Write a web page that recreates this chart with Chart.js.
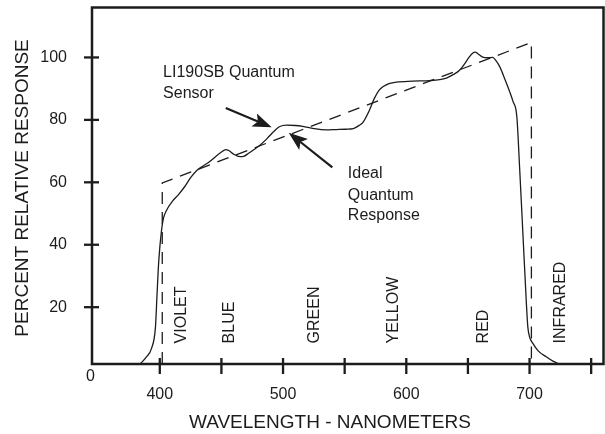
<!DOCTYPE html>
<html><head><meta charset="utf-8">
<script src="https://cdn.jsdelivr.net/npm/chart.js@4.4.1/dist/chart.umd.min.js"></script>
<style>html,body{margin:0;padding:0;background:#fff}#wrap{width:605px;height:434px;position:relative}</style>
</head><body><div id="wrap"><canvas id="c"></canvas></div>
<script>
// ---- data ----
const sensorWavelength = [384, 389, 393.3, 396.5, 397.8, 399.2, 401.4, 403, 405.4, 410.8, 415, 420, 425, 430, 440, 450, 453.5, 456, 460, 465, 468, 472, 481, 487, 492, 497, 503, 510, 516, 525, 535, 543, 551, 557, 562, 565, 570, 574, 578, 581, 586, 592, 605, 619, 627, 632.5, 638, 643, 647, 651, 654, 656, 658, 662, 666, 670, 673, 676, 680, 684, 686.5, 689.7, 691.9, 694.6, 697.3, 698.6, 700, 702.7, 707, 713.5, 719, 724];
const sensorResponse   = [1.8, 4, 6.8, 13.7, 24.4, 35, 44.6, 48.5, 51, 54.2, 56, 58.5, 61.5, 63.8, 66.5, 69.7, 70.5, 70.2, 69, 68.2, 68.3, 69.3, 71.8, 74, 76.1, 77.8, 78.3, 78.2, 77.9, 77.2, 76.8, 76.9, 77, 77.2, 78.3, 79.3, 83, 86.8, 89.5, 90.6, 91.6, 92.1, 92.4, 92.6, 92.9, 93.4, 94.5, 95.8, 97.8, 100.1, 101.4, 101.7, 101.2, 100.1, 99.9, 100, 98.8, 96.9, 93, 88.9, 86, 81, 65, 43.6, 22.2, 13.7, 10.5, 8.4, 6, 4.1, 2.7, 1.8];
const idealWavelength = [402, 402, 701.5, 701.5];
const idealResponse   = [1.8, 59.8, 104.8, 1.8];
const xTickValues = [400, 450, 500, 550, 600, 650, 700, 750];
const xTickLabels = ['400', '', '500', '', '600', '', '700', ''];
const yTickValues = [20, 40, 60, 80, 100];
const yTickLabels = ['20', '40', '60', '80', '100'];
const bandNames   = ['VIOLET', 'BLUE', 'GREEN', 'YELLOW', 'RED', 'INFRARED'];
const bandCenters = [417.4, 456.3, 525.8, 589.5, 662.5, 725.2];
const sensorNote = ['LI190SB Quantum', 'Sensor'];
const idealNote  = ['Ideal', 'Quantum', 'Response'];
const xTitle = 'WAVELENGTH - NANOMETERS';
const yTitle = 'PERCENT RELATIVE RESPONSE';

// ---- placement (data units) ----
const bandLabelY = 8.4;
const sensorNoteAt = {x: 402.7, y: [95.3, 88.4]};
const sensorArrow = {from: [453.5, 83.8], to: [490.8, 77.6]};
const idealNoteAt = {x: 552.6, y: [62.8, 55.8, 49.5]};
const idealArrow = {from: [540, 64.8], to: [504.6, 75.9]};
const xTitleAt = 538;    // wavelength at title centre
const yTitleAt = 58.2;   // response at title centre

const FONT = '"Liberation Sans", Arial, Helvetica, sans-serif';
const INK = '#1c1c1c';

function pts(xs, ys) { return xs.map((x, i) => ({x: x, y: ys[i]})); }

const decor = {
  id: 'decor',
  afterDraw(chart) {
    const ctx = chart.ctx;
    const {left, right, top, bottom} = chart.chartArea;
    const xs = chart.scales.x, ys = chart.scales.y;
    ctx.save();
    ctx.strokeStyle = INK; ctx.fillStyle = INK;
    ctx.lineWidth = 2.5; ctx.lineCap = 'butt';
    ctx.strokeRect(left, top, right - left, bottom - top);
    ctx.lineWidth = 2.3;
    xTickValues.forEach(v => {
      const p = xs.getPixelForValue(v);
      ctx.beginPath(); ctx.moveTo(p, bottom - 6); ctx.lineTo(p, bottom + 10); ctx.stroke();
    });
    yTickValues.forEach(v => {
      const p = ys.getPixelForValue(v);
      ctx.beginPath(); ctx.moveTo(left - 8, p); ctx.lineTo(left + 7, p); ctx.stroke();
    });
    ctx.font = '16px ' + FONT;
    ctx.textAlign = 'center'; ctx.textBaseline = 'middle';
    ctx.fillText('0', left - 1.5, bottom + 13);
    bandNames.forEach((n, i) => {
      ctx.save();
      ctx.translate(xs.getPixelForValue(bandCenters[i]), ys.getPixelForValue(bandLabelY));
      ctx.rotate(-Math.PI / 2);
      ctx.textAlign = 'left'; ctx.textBaseline = 'middle';
      ctx.fillText(n, 0, 0);
      ctx.restore();
    });
    ctx.textAlign = 'left'; ctx.textBaseline = 'middle';
    sensorNote.forEach((t, i) => ctx.fillText(t, xs.getPixelForValue(sensorNoteAt.x), ys.getPixelForValue(sensorNoteAt.y[i])));
    idealNote.forEach((t, i) => ctx.fillText(t, xs.getPixelForValue(idealNoteAt.x), ys.getPixelForValue(idealNoteAt.y[i])));
    // axis titles
    ctx.font = '19px ' + FONT;
    ctx.textAlign = 'center'; ctx.textBaseline = 'middle';
    ctx.fillText(xTitle, xs.getPixelForValue(xTitleAt), bottom + 59);
    ctx.save();
    ctx.translate(22.4, ys.getPixelForValue(yTitleAt));
    ctx.rotate(-Math.PI / 2);
    ctx.fillText(yTitle, 0, 0);
    ctx.restore();
    function arrow(a) {
      const x0 = xs.getPixelForValue(a.from[0]), y0 = ys.getPixelForValue(a.from[1]);
      const x1 = xs.getPixelForValue(a.to[0]), y1 = ys.getPixelForValue(a.to[1]);
      const ang = Math.atan2(y1 - y0, x1 - x0);
      const L = 19, W = 7;
      const bx = x1 - L * Math.cos(ang), by = y1 - L * Math.sin(ang);
      ctx.lineWidth = 2.2;
      ctx.beginPath(); ctx.moveTo(x0, y0); ctx.lineTo(bx + 4 * Math.cos(ang), by + 4 * Math.sin(ang)); ctx.stroke();
      ctx.beginPath();
      ctx.moveTo(x1, y1);
      ctx.lineTo(bx + W * Math.sin(ang), by - W * Math.cos(ang));
      ctx.lineTo(bx + 4 * Math.cos(ang), by + 4 * Math.sin(ang));
      ctx.lineTo(bx - W * Math.sin(ang), by + W * Math.cos(ang));
      ctx.closePath(); ctx.fill();
    }
    arrow(sensorArrow);
    arrow(idealArrow);
    ctx.restore();
  }
};

new Chart(document.getElementById('c'), {
  type: 'line',
  data: {
    datasets: [
      {label: 'LI190SB Quantum Sensor', data: pts(sensorWavelength, sensorResponse),
       borderColor: INK, borderWidth: 1.3, pointRadius: 0, fill: false,
       cubicInterpolationMode: 'monotone', clip: 4},
      {label: 'Ideal Quantum Response', data: pts(idealWavelength, idealResponse),
       borderColor: INK, borderWidth: 1.3, borderDash: [12, 8], pointRadius: 0, fill: false,
       tension: 0, clip: 4}
    ]
  },
  options: {
    responsive: true, maintainAspectRatio: false, animation: false,
    layout: {padding: {top: 7.5, right: 1.5, left: 0, bottom: 0}},
    plugins: {legend: {display: false}, tooltip: {enabled: false}},
    scales: {
      x: {
        type: 'linear', min: 345, max: 760,
        grid: {display: false}, border: {display: false},
        afterBuildTicks: s => { s.ticks = xTickValues.map(v => ({value: v})); },
        ticks: {callback: (v, i) => xTickLabels[xTickValues.indexOf(v)] || '',
                font: {family: FONT, size: 16}, color: INK, padding: 12.6,
                maxRotation: 0, autoSkip: false},
        title: {display: false},
        afterFit: s => { s.height = 70; s.paddingLeft = 0; s.paddingRight = 0; }
      },
      y: {
        type: 'linear', min: 1.8, max: 116,
        grid: {display: false}, border: {display: false},
        afterBuildTicks: s => { s.ticks = yTickValues.map(v => ({value: v})); },
        ticks: {callback: v => yTickLabels[yTickValues.indexOf(v)] || '',
                font: {family: FONT, size: 16}, color: INK, padding: 17, autoSkip: false},
        title: {display: false},
        afterFit: s => { s.width = 92; s.paddingTop = 0; s.paddingBottom = 0; }
      }
    }
  },
  plugins: [decor]
});
</script>
</body></html>
